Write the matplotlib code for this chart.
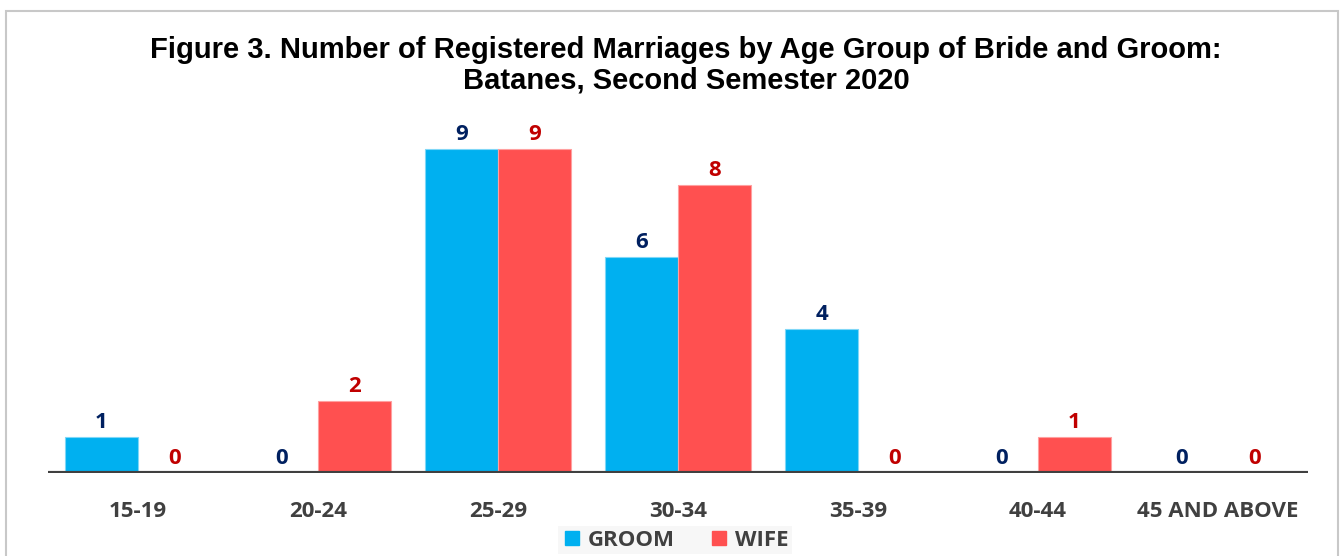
import matplotlib
matplotlib.use("Agg")
import matplotlib.pyplot as plt
from matplotlib.patches import Rectangle
from matplotlib.lines import Line2D
import numpy as np

categories = ["15-19", "20-24", "25-29", "30-34", "35-39", "40-44", "45 AND ABOVE"]
groom = [1, 0, 9, 6, 4, 0, 0]
wife = [0, 2, 9, 8, 0, 1, 0]
title = "Figure 3. Number of Registered Marriages by Age Group of Bride and Groom:\nBatanes, Second Semester 2020"

FONT = "Open Sans"
FS = 16
W, H = 1341, 556
fig = plt.figure(figsize=(W / 100, H / 100), dpi=100)
fig.patch.set_facecolor("white")

ax = fig.add_axes([48 / W, 1 - 473 / H, 1260 / W, 360 / H])
x = np.arange(len(categories))
bw = 0.405
c_groom, c_wife = "#00B0F0", "#FF5050"
ax.bar(x - bw / 2, groom, bw, color=c_groom, edgecolor="#7FD7F7", linewidth=0.8, zorder=2)
ax.bar(x + bw / 2, wife, bw, color=c_wife, edgecolor="#FFA0A0", linewidth=0.8, zorder=2)
ax.set_xlim(-0.5, len(categories) - 0.5)
ax.set_ylim(0, 10)
for s in ax.spines.values():
    s.set_visible(False)
ax.axhline(0, color="#404040", lw=3.0, zorder=3)
ax.set_yticks([])
ax.set_xticks(x)
ax.set_xticklabels(categories, fontsize=FS, fontweight="bold", color="#404040", family=FONT)
ax.tick_params(axis="x", length=0, pad=20)

for i in range(len(categories)):
    ax.annotate(str(groom[i]), (x[i] - bw / 2, groom[i]), xytext=(0, 3), textcoords="offset points",
                ha="center", va="bottom", fontsize=FS, fontweight="bold", color="#002060", family=FONT)
    ax.annotate(str(wife[i]), (x[i] + bw / 2, wife[i]), xytext=(0, 3), textcoords="offset points",
                ha="center", va="bottom", fontsize=FS, fontweight="bold", color="#C00000", family=FONT)

fig.text(686 / W, 1 - 65 / H, title, ha="center", va="center", fontsize=21, fontweight="bold",
         family="Liberation Sans", linespacing=1.12)

fig.patches.append(Rectangle((6 / W, -0.05), 1332 / W, 1.05 - 11 / H, transform=fig.transFigure,
                             fill=False, edgecolor="#C8C8C8", lw=1.5))

handles = [Line2D([], [], marker="s", linestyle="none", markersize=10, markerfacecolor=c_groom, markeredgecolor=c_groom),
           Line2D([], [], marker="s", linestyle="none", markersize=10, markerfacecolor=c_wife, markeredgecolor=c_wife)]
leg = fig.legend(handles, ["GROOM", "WIFE"], loc="center", bbox_to_anchor=(675 / W, 1 - 540 / H), ncol=2,
                 frameon=True, fancybox=False, facecolor="#F7F7F7", edgecolor="none", framealpha=1,
                 prop={"family": FONT, "weight": "bold", "size": FS}, handletextpad=0.2, columnspacing=1.5,
                 borderpad=0.15, handlelength=1.0, borderaxespad=0)
for t in leg.get_texts():
    t.set_color("#404040")

fig.savefig("out.png", dpi=100, facecolor="white")
